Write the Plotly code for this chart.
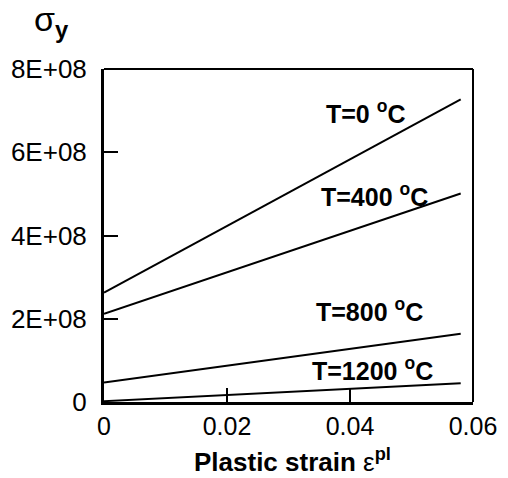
import plotly.graph_objects as go

# ---- data ----
strain = [0.0, 0.058]
sigma_T0 = [2.63e8, 7.27e8]
sigma_T400 = [2.12e8, 5.01e8]
sigma_T800 = [4.66e7, 1.64e8]
sigma_T1200 = [2.0e6, 4.5e7]

series_names = ["T=0 °C", "T=400 °C", "T=800 °C", "T=1200 °C"]
label_texts = ["<b>T=0 <sup>o</sup>C</b>", "<b>T=400 <sup>o</sup>C</b>",
               "<b>T=800 <sup>o</sup>C</b>", "<b>T=1200 <sup>o</sup>C</b>"]

x_tickvals = [0, 0.02, 0.04, 0.06]
x_ticktext = ["0", "0.02", "0.04", "0.06"]
y_tickvals = [0, 2e8, 4e8, 6e8, 8e8]
y_ticktext = ["0", "2E+08", "4E+08", "6E+08", "8E+08"]

W, H = 508, 478
L, R, T, B = 104, 35, 69, 76
pw, ph = W - L - R, H - T - B

def px_x(px):
    return (px - L) / pw

def px_y(py):
    return (H - B - py) / ph

FONT = "Liberation Sans, Arial, sans-serif"

fig = go.Figure()
for ys, name in zip([sigma_T0, sigma_T400, sigma_T800, sigma_T1200], series_names):
    fig.add_trace(go.Scatter(x=strain, y=ys, mode="lines", name=name,
                             line=dict(color="black", width=2), showlegend=False))

# curve labels (pixel positions: left edge, vertical centre)
label_pos = [(324, 112), (319, 195), (314, 310), (310, 369)]
for txt, (lx, ly) in zip(label_texts, label_pos):
    fig.add_annotation(text=txt, xref="paper", yref="paper", x=px_x(lx), y=px_y(ly),
                       xanchor="left", yanchor="middle", showarrow=False,
                       font=dict(family=FONT, size=25, color="black"))

# axis titles
fig.add_annotation(text="<b>Plastic strain</b> ε<sup><b>pl</b></sup>",
                   xref="paper", yref="paper", x=px_x(192), y=px_y(460),
                   xanchor="left", yanchor="middle", showarrow=False,
                   font=dict(family=FONT, size=26, color="black"))
fig.add_annotation(text="σ<sub><b>y</b></sub>", xref="paper", yref="paper",
                   x=px_x(51), y=px_y(22), xanchor="center", yanchor="middle",
                   showarrow=False, font=dict(family=FONT, size=34, color="black"))

# top and right frame lines (thinner)
fig.add_shape(type="line", xref="paper", yref="paper", x0=0, x1=1, y0=1, y1=1,
              line=dict(color="black", width=2))
fig.add_shape(type="line", xref="paper", yref="paper", x0=1, x1=1, y0=0, y1=1,
              line=dict(color="black", width=2))

fig.update_xaxes(range=[0, 0.06], tickvals=x_tickvals, ticktext=x_ticktext,
                 showgrid=False, zeroline=False, showline=True, linecolor="black",
                 linewidth=3, ticks="inside", ticklen=14, tickwidth=2, tickcolor="black",
                 tickfont=dict(family=FONT, size=25, color="black"), ticklabelstandoff=0,
                 automargin=False)
fig.update_yaxes(range=[0, 8e8], tickvals=y_tickvals, ticktext=y_ticktext,
                 showgrid=False, zeroline=False, showline=True, linecolor="black",
                 linewidth=3, ticks="inside", ticklen=14, tickwidth=2, tickcolor="black",
                 tickfont=dict(family=FONT, size=26, color="black"), ticklabelstandoff=9,
                 automargin=False)

fig.update_layout(width=W, height=H, margin=dict(l=L, r=R, t=T, b=B),
                  plot_bgcolor="white", paper_bgcolor="white")

fig.write_html("out.html")
